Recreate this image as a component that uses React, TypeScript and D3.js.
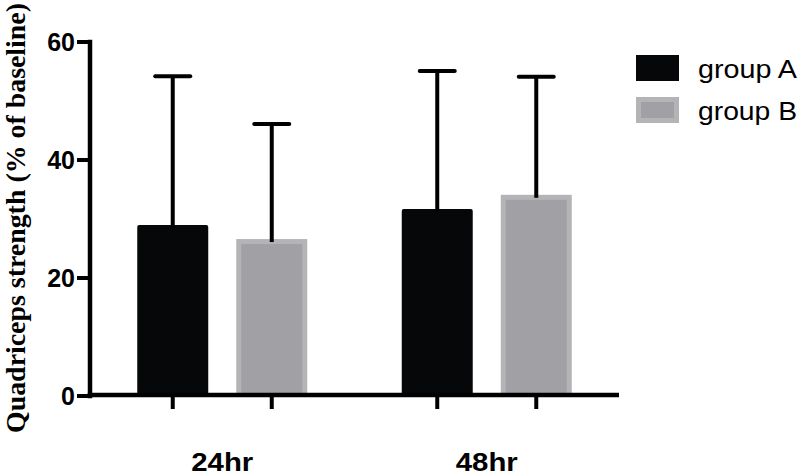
import React from "react";
import * as d3 from "d3";

// timepoints and groups
const timepoints = ["24hr", "48hr"];
const groups = ["group A", "group B"];

// mean values (% of baseline) per group, in timepoint order
const groupAMeans = [29.0, 31.7];
const groupBMeans = [26.6, 34.1];

// SD (upper error bar only)
const groupASD = [25.2, 23.4];
const groupBSD = [19.5, 20.0];

const yTicks = [0, 20, 40, 60];

const App: React.FC = () => {
  const width = 800;
  const height = 476;
  const margin = { top: 42, right: 181, bottom: 80, left: 90 };
  const axisW = 4.5;

  const yScale = d3.scaleLinear().domain([0, 60]).range([height - margin.bottom, margin.top]);
  const y0 = yScale(0);

  const xOuter = d3
    .scalePoint<string>()
    .domain(timepoints)
    .range([margin.left, width - margin.right])
    .padding(0.5);

  const xInner = d3.scaleBand<string>().domain(groups).range([-85, 85]).paddingInner(0.283);
  const bw = xInner.bandwidth();

  const means = [groupAMeans, groupBMeans];
  const sds = [groupASD, groupBSD];

  const bars = groups.flatMap((g, gi) =>
    timepoints.map((t, ti) => ({
      group: g,
      gi,
      x: xOuter(t)! + xInner(g)!,
      mean: means[gi][ti],
      sd: sds[gi][ti],
    }))
  );

  const capW = 35;
  const boldSans = "'Liberation Sans', Arial, Helvetica, sans-serif";

  return (
    <svg
      width={width}
      height={height}
      style={{ position: "absolute", left: 0, top: 0, background: "#fff" }}
    >
      {/* y axis title */}
      <text
        transform={`translate(25, 218) rotate(-90)`}
        textAnchor="middle"
        fontFamily="'Liberation Serif', 'Times New Roman', serif"
        fontWeight="bold"
        fontSize={28}
        textLength={430}
        lengthAdjust="spacingAndGlyphs"
        fill="#000"
      >
        Quadriceps strength (% of baseline)
      </text>

      {/* bars */}
      {bars.map((b, i) => {
        const top = yScale(b.mean);
        const h = y0 - top;
        return b.gi === 0 ? (
          <rect key={i} x={b.x} y={top} width={bw} height={h} rx={2} fill="#050708" />
        ) : (
          <g key={i}>
            <rect x={b.x} y={top} width={bw} height={h} fill="#b4b4b6" />
            <rect x={b.x + 5} y={top + 5} width={bw - 10} height={h - 5} fill="#a1a1a5" />
          </g>
        );
      })}

      {/* error bars */}
      {bars.map((b, i) => {
        const cx = b.x + bw / 2;
        const top = yScale(b.mean + b.sd);
        return (
          <g key={i} stroke="#000" strokeWidth={4}>
            <line x1={cx} x2={cx} y1={yScale(b.mean) + 3} y2={top} />
            <line x1={cx - capW / 2} x2={cx + capW / 2} y1={top} y2={top} strokeLinecap="round" />
          </g>
        );
      })}

      {/* y axis */}
      <line x1={margin.left} x2={margin.left} y1={margin.top - axisW / 2} y2={y0 + axisW / 2} stroke="#000" strokeWidth={axisW} />
      {yTicks.map((t) => (
        <g key={t}>
          <line x1={margin.left - 13} x2={margin.left} y1={yScale(t)} y2={yScale(t)} stroke="#000" strokeWidth={4} />
          <text
            x={margin.left - 15}
            y={yScale(t)}
            dy="0.36em"
            textAnchor="end"
            fontFamily={boldSans}
            fontWeight="bold"
            fontSize={25}
            fill="#000"
          >
            {t}
          </text>
        </g>
      ))}

      {/* x axis */}
      <line x1={margin.left - axisW / 2} x2={width - margin.right} y1={y0 - 1} y2={y0 - 1} stroke="#000" strokeWidth={axisW} />
      {bars.map((b, i) => (
        <line key={i} x1={b.x + bw / 2} x2={b.x + bw / 2} y1={y0} y2={y0 + 13} stroke="#000" strokeWidth={4} />
      ))}
      {timepoints.map((t) => (
        <text
          key={t}
          x={xOuter(t)!}
          y={471}
          textAnchor="middle"
          fontFamily={boldSans}
          fontWeight="bold"
          fontSize={25}
          textLength={62}
          lengthAdjust="spacingAndGlyphs"
          fill="#000"
        >
          {t}
        </text>
      ))}

      {/* legend */}
      {groups.map((g, i) => {
        const ly = 55 + i * 42;
        return (
          <g key={g}>
            {i === 0 ? (
              <rect x={636} y={ly} width={43} height={26} fill="#050708" />
            ) : (
              <g>
                <rect x={636} y={ly} width={43} height={26} fill="#b4b4b6" />
                <rect x={641} y={ly + 5} width={33} height={16} fill="#a1a1a5" />
              </g>
            )}
            <text
              x={698}
              y={ly + 23}
              fontFamily={boldSans}
              fontSize={25}
              textLength={99}
              lengthAdjust="spacingAndGlyphs"
              fill="#000"
            >
              {g}
            </text>
          </g>
        );
      })}
    </svg>
  );
};

export default App;
